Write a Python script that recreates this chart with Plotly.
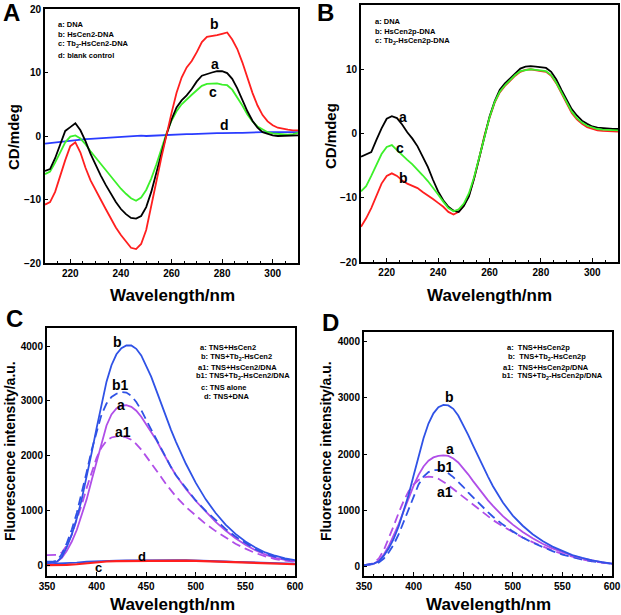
import plotly.graph_objects as go

W, H = 621, 615

# ---------------- Panel A (CD, HsCen2) ----------------
WL_CD = [210, 212, 214, 216, 218, 220, 222, 224, 226, 228, 230, 232, 234, 236, 238, 240,
         242, 244, 246, 248, 250, 252, 254, 256, 258, 260, 262, 264, 266, 268, 270, 272,
         274, 276, 278, 280, 282, 284, 286, 288, 290, 292, 294, 296, 298, 300, 302, 304,
         306, 308, 310]

A_a = [-5.5, -5.2, -3.5, -1.5, 0.8, 1.4, 2.0, 0.9, -0.8, -2.8, -4.6, -6.2, -7.7, -9.1, -10.4, -11.5,
       -12.3, -12.9, -13.0, -12.6, -11.2, -8.8, -5.8, -2.7, 0.2, 2.6, 4.5, 5.6, 6.4, 7.4, 8.6, 9.5,
       9.8, 10.0, 10.2, 10.2, 9.9, 9.0, 7.5, 5.7, 3.9, 2.4, 1.3, 0.6, 0.3, 0.1, 0.0, 0.0,
       0.0, 0.0, 0.1]
A_b = [-10.8, -10.4, -8.8, -6.2, -3.8, -1.6, -1.0, -2.6, -5.0, -7.0, -8.6, -10.0, -11.5, -13.0, -14.4, -15.6,
       -16.6, -17.6, -17.8, -17.0, -14.8, -11.2, -7.2, -3.4, 0.2, 3.6, 6.8, 9.2, 10.8, 11.8, 13.2, 14.8,
       15.6, 15.7, 15.9, 16.1, 16.3, 15.2, 13.7, 11.6, 9.2, 6.8, 4.8, 3.3, 2.3, 1.7, 1.3, 1.1,
       1.0, 0.9, 0.9]
A_c = [-6.0, -5.6, -4.2, -2.6, -1.0, -0.1, 0.1, -0.4, -1.3, -2.4, -3.4, -4.4, -5.4, -6.4, -7.4, -8.3,
       -9.1, -9.8, -10.2, -9.7, -8.5, -6.7, -4.5, -2.1, 0.4, 2.4, 3.9, 5.0, 5.8, 6.5, 7.2, 7.9,
       8.2, 8.3, 8.3, 8.1, 8.0, 7.3, 6.1, 4.8, 3.4, 2.3, 1.5, 1.0, 0.6, 0.4, 0.3, 0.2,
       0.2, 0.3, 0.5]
A_d = [-1.2, -1.1, -1.0, -0.9, -0.8, -0.7, -0.6, -0.55, -0.5, -0.45, -0.4, -0.35, -0.3, -0.25, -0.2, -0.1,
       -0.1, 0.0, 0.0, 0.05, 0.0, 0.05, 0.1, 0.15, 0.15, 0.2, 0.2, 0.25, 0.3, 0.3, 0.35, 0.35,
       0.4, 0.4, 0.45, 0.45, 0.5, 0.45, 0.5, 0.5, 0.55, 0.5, 0.55, 0.6, 0.6, 0.65, 0.6, 0.6,
       0.55, 0.6, 0.6]

# ---------------- Panel B (CD, HsCen2p) ----------------
B_a = [-3.6, -3.2, -2.9, -1.0, 0.8, 2.3, 2.7, 2.4, 1.4, 0.2, -0.8, -2.0, -3.5, -5.2, -7.2, -9.0,
       -10.4, -11.4, -12.0, -12.2, -11.3, -9.8, -7.0, -3.8, -0.4, 2.6, 5.0, 6.8, 7.8, 8.6, 9.4, 10.1,
       10.4, 10.5, 10.4, 10.3, 10.2, 9.6, 8.4, 6.8, 5.2, 3.8, 2.8, 2.0, 1.5, 1.1, 0.9, 0.8,
       0.7, 0.7, 0.7]
B_b = [-14.5, -13.2, -11.6, -9.6, -7.8, -6.6, -6.2, -6.6, -7.3, -7.8, -8.1, -8.5, -9.1, -9.6, -10.2, -10.8,
       -11.4, -12.2, -12.6, -12.2, -11.2, -9.6, -7.0, -3.8, -0.4, 2.4, 4.8, 6.4, 7.4, 8.2, 9.0, 9.6,
       9.9, 10.0, 9.8, 9.7, 9.6, 9.0, 7.8, 6.2, 4.6, 3.2, 2.2, 1.5, 1.0, 0.7, 0.5, 0.4,
       0.35, 0.3, 0.3]
B_c = [-9.0, -8.2, -6.6, -4.8, -3.2, -2.1, -1.8, -2.6, -3.4, -4.1, -4.8, -5.6, -6.5, -7.4, -8.4, -9.5,
       -10.6, -11.6, -12.1, -11.8, -10.9, -9.3, -6.8, -3.7, -0.4, 2.5, 4.9, 6.5, 7.5, 8.3, 9.1, 9.7,
       9.9, 10.0, 9.9, 9.8, 9.7, 9.1, 7.9, 6.4, 4.8, 3.4, 2.4, 1.7, 1.2, 0.9, 0.7, 0.6,
       0.55, 0.5, 0.5]

# ---------------- Panel C (fluorescence, HsCen2) ----------------
WL_FL = [350, 355, 360, 365, 370, 375, 380, 385, 390, 395, 400, 405, 410, 415, 420, 425, 430,
         435, 440, 445, 450, 455, 460, 465, 470, 475, 480, 490, 500, 510, 520, 530, 540, 550,
         560, 570, 580, 590, 600]

C_b = [30, 40, 60, 150, 330, 560, 850, 1200, 1600, 2050, 2500, 2950, 3350, 3650, 3850, 3960, 4010,
       4010, 3950, 3830, 3650, 3440, 3200, 2950, 2700, 2470, 2250, 1850, 1500, 1200, 950, 740, 570, 430,
       320, 230, 170, 120, 90]
C_b1 = [60, 60, 80, 200, 400, 650, 950, 1300, 1700, 2100, 2450, 2750, 2950, 3070, 3130, 3160, 3150,
        3090, 2980, 2830, 2650, 2480, 2300, 2120, 1950, 1790, 1640, 1400, 1180, 990, 820, 660, 520, 400,
        290, 210, 150, 110, 80]
C_a = [40, 40, 60, 130, 260, 430, 640, 900, 1200, 1550, 1900, 2250, 2550, 2750, 2860, 2910, 2920,
       2890, 2820, 2710, 2570, 2440, 2290, 2120, 1950, 1790, 1640, 1390, 1170, 970, 790, 630, 490, 370,
       270, 190, 130, 95, 70]
C_a1 = [180, 180, 185, 230, 360, 560, 810, 1100, 1410, 1700, 1960, 2150, 2270, 2330, 2350, 2350, 2330,
        2290, 2210, 2110, 1990, 1870, 1740, 1610, 1480, 1360, 1250, 1060, 900, 750, 620, 500, 390, 300,
        220, 160, 110, 80, 60]

WL_LOW = [350, 360, 370, 380, 390, 400, 410, 420, 430, 440, 450, 460, 470, 480, 490, 500,
          510, 520, 530, 540, 550, 560, 570, 580, 590, 600]
C_c = [0, 0, 5, 15, 35, 55, 65, 72, 75, 78, 80, 82, 82, 82, 80, 75,
       68, 60, 52, 45, 38, 32, 27, 22, 18, 15]
C_d = [20, 25, 35, 45, 60, 70, 78, 82, 85, 88, 90, 92, 92, 90, 88, 85,
       80, 72, 65, 58, 50, 45, 40, 35, 30, 25]

# ---------------- Panel D (fluorescence, HsCen2p) ----------------
D_b = [30, 40, 60, 100, 200, 330, 500, 720, 980, 1280, 1620, 1960, 2280, 2540, 2720, 2830, 2870,
       2860, 2800, 2680, 2520, 2340, 2150, 1960, 1780, 1600, 1430, 1140, 910, 730, 580, 460, 360, 280,
       210, 160, 115, 85, 60]
D_a = [30, 40, 60, 110, 220, 370, 550, 760, 990, 1220, 1440, 1630, 1780, 1880, 1940, 1965, 1975,
       1965, 1920, 1850, 1750, 1640, 1520, 1400, 1290, 1180, 1080, 900, 750, 620, 510, 410, 330, 260,
       200, 150, 110, 80, 60]
D_b1 = [30, 40, 55, 80, 150, 260, 400, 580, 800, 1040, 1270, 1460, 1600, 1680, 1715, 1720, 1700,
        1660, 1590, 1510, 1420, 1320, 1230, 1140, 1050, 970, 890, 750, 630, 520, 430, 350, 280, 220,
        170, 130, 100, 75, 55]
D_a1 = [30, 40, 70, 150, 300, 500, 730, 960, 1170, 1340, 1460, 1540, 1585, 1600, 1590, 1560, 1510,
        1450, 1380, 1310, 1240, 1170, 1100, 1030, 960, 890, 830, 720, 620, 520, 440, 360, 290, 230,
        180, 135, 100, 75, 55]

CD_TICKS = [-20, -10, 0, 10, 20]
CD_XTICKS = [220, 240, 260, 280, 300]
FL_TICKS = [0, 1000, 2000, 3000, 4000]
FL_XTICKS = [350, 400, 450, 500, 550, 600]

# ---------------- styles ----------------
RED = "#ff1f1f"
BLACK = "#000000"
GREEN = "#3cf02a"
BLUE_A = "#2a3cff"
BLUE = "#2f52e6"
PURPLE = "#b04ee8"
FONT = "Liberation Sans"
DASH = "9px,5px"
LEG_SIZE = 7.5

fig = go.Figure()

def line(x, y, color, ax, width=1.8, dash="solid"):
    fig.add_trace(go.Scatter(x=x, y=y, mode="lines", xaxis="x" + ax, yaxis="y" + ax,
                             line=dict(color=color, width=width, dash=dash),
                             showlegend=False, hoverinfo="skip"))

# A
line(WL_CD, A_d, BLUE_A, "")
line(WL_CD, A_c, GREEN, "")
line(WL_CD, A_a, BLACK, "")
line(WL_CD, A_b, RED, "")
# B
line(WL_CD, B_b, RED, "2")
line(WL_CD, B_a, BLACK, "2")
line(WL_CD, B_c, GREEN, "2")
# C
line(WL_LOW, C_d, BLUE, "3")
line(WL_LOW, C_c, RED, "3", width=2.2)
line(WL_FL, C_a1, PURPLE, "3", dash=DASH)
line(WL_FL, C_a, PURPLE, "3")
line(WL_FL, C_b1, BLUE, "3", dash=DASH)
line(WL_FL, C_b, BLUE, "3")
# D
line(WL_FL, D_a1, PURPLE, "4", dash=DASH)
line(WL_FL, D_b1, BLUE, "4", dash=DASH)
line(WL_FL, D_a, PURPLE, "4")
line(WL_FL, D_b, BLUE, "4")

def px_x(p):
    return p / W

def px_y(p):
    return 1 - p / H

tickfont = dict(family=FONT, size=10, color="black", weight="bold")

def xax(dom, rng, ticks, anchor, minor):
    return dict(domain=[px_x(dom[0]), px_x(dom[1])], range=rng, anchor=anchor,
                tickvals=ticks, showgrid=False, zeroline=False, automargin=False,
                showline=True, linecolor="black", linewidth=2, mirror=True,
                ticks="inside", ticklen=4, tickwidth=1, tickcolor="black",
                minor=dict(dtick=minor, ticks="inside", ticklen=2, tickcolor="black", tick0=0),
                tickfont=tickfont)

def yax(dom, rng, ticks, anchor):
    return dict(domain=[px_y(dom[1]), px_y(dom[0])], range=rng, anchor=anchor,
                tickvals=ticks, showgrid=False, zeroline=False, automargin=False,
                showline=True, linecolor="black", linewidth=2, mirror=True,
                ticks="inside", ticklen=3, tickwidth=1, tickcolor="black",
                tickfont=tickfont)

fig.update_layout(
    template="none",
    width=W, height=H, autosize=False,
    margin=dict(l=0, r=0, t=0, b=0, pad=0),
    paper_bgcolor="white", plot_bgcolor="white",
    xaxis=xax((45, 298), [210, 310], CD_XTICKS, "y", 5),
    yaxis=yax((9, 263), [-20, 20], CD_TICKS, "x"),
    xaxis2=xax((361, 618), [210, 310], CD_XTICKS, "y2", 5),
    yaxis2=yax((5, 262), [-20, 20], CD_TICKS, "x2"),
    xaxis3=xax((47, 295), [350, 600], FL_XTICKS, "y3", 10),
    yaxis3=yax((328, 576), [-200, 4330], FL_TICKS, "x3"),
    xaxis4=xax((364, 612), [350, 600], FL_XTICKS, "y4", 10),
    yaxis4=yax((332, 576), [-160, 4160], FL_TICKS, "x4"),
)

ann = []

def ptext(text, x, y, size, angle=0, xanchor="center"):
    ann.append(dict(text=text, x=px_x(x), y=px_y(y), xref="paper", yref="paper",
                    showarrow=False, textangle=angle, xanchor=xanchor, yanchor="middle",
                    font=dict(family=FONT, size=size, color="black")))

def dtext(text, x, y, ax, size=14):
    ann.append(dict(text="<b>" + text + "</b>", x=x, y=y, xref="x" + ax, yref="y" + ax,
                    showarrow=False, xanchor="center", yanchor="middle",
                    font=dict(family=FONT, size=size, color="black")))

# panel letters
ptext("<b>A</b>", 11, 12, 24)
ptext("<b>B</b>", 325, 13, 24)
ptext("<b>C</b>", 14, 318, 24)
ptext("<b>D</b>", 330, 322, 24)

# axis titles
for cx in (172, 490):
    ptext("<b>Wavelength/nm</b>", cx, 295, 17)
for cx in (172, 488):
    ptext("<b>Wavelength/nm</b>", cx, 604, 17)
ptext("<b>CD/mdeg</b>", 13, 137, 15, angle=-90)
ptext("<b>CD/mdeg</b>", 330, 136, 15, angle=-90)
ptext("<b>Fluorescence intensity/a.u.</b>", 10, 451, 14, angle=-90)
ptext("<b>Fluorescence intensity/a.u.</b>", 326, 451, 14, angle=-90)

# legends (text boxes)
LEG_A = ["a: DNA", "b: HsCen2-DNA", "c: Tb<sub>2</sub>-HsCen2-DNA", "d: blank control"]
for t, yy in zip(LEG_A, (24, 34, 44, 55)):
    ptext("<b>" + t + "</b>", 56, yy, LEG_SIZE, xanchor="left")
LEG_B = ["a: DNA", "b: HsCen2p-DNA", "c: Tb<sub>2</sub>-HsCen2p-DNA"]
for t, yy in zip(LEG_B, (22, 31, 41)):
    ptext("<b>" + t + "</b>", 373, yy, LEG_SIZE, xanchor="left")
LEG_C = ["a: TNS+HsCen2", "b: TNS+Tb<sub>2</sub>-HsCen2", "a1: TNS+HsCen2/DNA",
         "b1: TNS+Tb<sub>2</sub>-HsCen2/DNA", "c: TNS alone", "d: TNS+DNA"]
for t, xx, yy in zip(LEG_C, (198, 199, 196, 194, 199, 202), (348, 357, 367, 376, 387, 396)):
    ptext("<b>" + t + "</b>", xx, yy, LEG_SIZE, xanchor="left")
LEG_D = ["a:  TNS+HsCen2p", "b:  TNS+Tb<sub>2</sub>-HsCen2p", "a1:  TNS+HsCen2p/DNA",
         "b1:  TNS+Tb<sub>2</sub>-HsCen2p/DNA"]
for t, xx, yy in zip(LEG_D, (505, 506, 501, 500), (348, 357, 367, 376)):
    ptext("<b>" + t + "</b>", xx, yy, LEG_SIZE, xanchor="left")

# curve labels
dtext("b", 277, 17.6, "")
dtext("a", 277, 11.3, "")
dtext("c", 276.5, 6.9, "")
dtext("d", 281, 1.8, "")
dtext("a", 226.5, 2.5, "2")
dtext("c", 225, -2.2, "2")
dtext("b", 226.5, -7.0, "2")
dtext("b", 421, 4080, "3")
dtext("b1", 424, 3290, "3")
dtext("a", 425, 2920, "3")
dtext("a1", 427, 2430, "3")
dtext("d", 446, 165, "3", 13)
dtext("c", 402, -40, "3", 13)
dtext("b", 436, 3010, "4")
dtext("a", 436.5, 2080, "4")
dtext("b1", 432.5, 1775, "4")
dtext("a1", 431.5, 1330, "4")

fig.update_layout(annotations=ann)
fig.write_html("out.html",
               config={"displayModeBar": False},
               post_script="document.body.style.margin='0';document.body.style.padding='0';"
                           "document.body.style.overflow='hidden';")
